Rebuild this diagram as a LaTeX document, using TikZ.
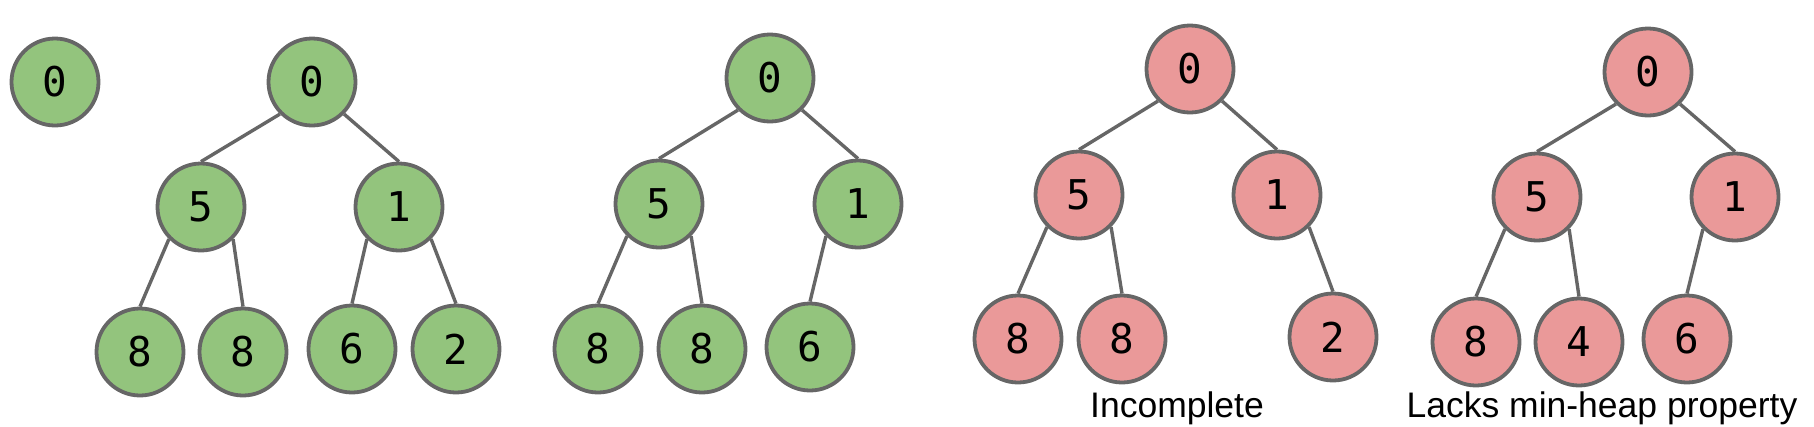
\documentclass[tikz,border=0pt]{standalone}
\usepackage{fontspec}
\setmainfont{Liberation Sans}
\newfontfamily\digitfont{DejaVu Sans Mono}
\definecolor{gfill}{HTML}{93C47D}
\definecolor{rfill}{HTML}{EA9999}
\definecolor{strk}{HTML}{666666}
\begin{document}
\begin{tikzpicture}[x=1pt,y=-1pt,
  heapnode/.style={circle,draw=strk,line width=3.8pt,minimum size=87pt,inner sep=0pt,
    font=\digitfont\fontsize{41}{48}\selectfont},
  gnode/.style={heapnode,fill=gfill},
  rnode/.style={heapnode,fill=rfill},
  edge/.style={draw=strk,line width=3.4pt},
  caption/.style={anchor=base,inner sep=0pt,font=\fontsize{35.5}{42}\selectfont}]
\useasboundingbox (0,0) rectangle (1814,426);
% lone node
\node[gnode] (s0) at (55,82) {0};
% tree 1
\node[gnode] (a0) at (312,82) {0};
\node[gnode] (a1) at (201,207) {5};
\node[gnode] (a2) at (399,207) {1};
\node[gnode] (a3) at (140,352) {8};
\node[gnode] (a4) at (243,352) {8};
\node[gnode] (a5) at (352,349) {6};
\node[gnode] (a6) at (456,349) {2};
\draw[edge] (a0.south west) -- (a1.north);
\draw[edge] (a0.south east) -- (a2.north);
\draw[edge] (a1.south west) -- (a3.north);
\draw[edge] (a1.south east) -- (a4.north);
\draw[edge] (a2.south west) -- (a5.north);
\draw[edge] (a2.south east) -- (a6.north);
% tree 2
\node[gnode] (b0) at (770,78) {0};
\node[gnode] (b1) at (659,204) {5};
\node[gnode] (b2) at (858,204) {1};
\node[gnode] (b3) at (598,349) {8};
\node[gnode] (b4) at (702,349) {8};
\node[gnode] (b5) at (810,347) {6};
\draw[edge] (b0.south west) -- (b1.north);
\draw[edge] (b0.south east) -- (b2.north);
\draw[edge] (b1.south west) -- (b3.north);
\draw[edge] (b1.south east) -- (b4.north);
\draw[edge] (b2.south west) -- (b5.north);
% tree 3
\node[rnode] (c0) at (1190,69) {0};
\node[rnode] (c1) at (1079,195) {5};
\node[rnode] (c2) at (1277,195) {1};
\node[rnode] (c3) at (1018,339) {8};
\node[rnode] (c4) at (1122,339) {8};
\node[rnode] (c6) at (1333,337) {2};
\draw[edge] (c0.south west) -- (c1.north);
\draw[edge] (c0.south east) -- (c2.north);
\draw[edge] (c1.south west) -- (c3.north);
\draw[edge] (c1.south east) -- (c4.north);
\draw[edge] (c2.south east) -- (c6.north);
\node[caption] (t1) at (1177,417) {Incomplete};
% tree 4
\node[rnode] (d0) at (1648,72) {0};
\node[rnode] (d1) at (1537,197) {5};
\node[rnode] (d2) at (1735,197) {1};
\node[rnode] (d3) at (1476,342) {8};
\node[rnode] (d4) at (1579,342) {4};
\node[rnode] (d5) at (1687,339) {6};
\draw[edge] (d0.south west) -- (d1.north);
\draw[edge] (d0.south east) -- (d2.north);
\draw[edge] (d1.south west) -- (d3.north);
\draw[edge] (d1.south east) -- (d4.north);
\draw[edge] (d2.south west) -- (d5.north);
\node[caption] (t2) at (1602,417) {Lacks min-heap property};
\end{tikzpicture}
\end{document}
